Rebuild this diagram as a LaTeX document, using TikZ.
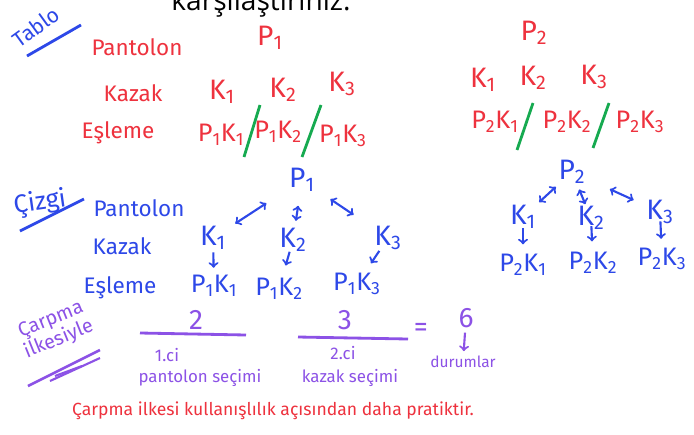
\documentclass[tikz,border=0pt]{standalone}
\usepackage{fontspec}
\setmainfont{Fira Sans}
\newfontfamily\printfont{Open Sans}
\usetikzlibrary{arrows,calc,positioning}
\definecolor{penred}{RGB}{238,50,62}
\definecolor{penblue}{RGB}{45,72,232}
\definecolor{penpurple}{RGB}{140,82,230}
\definecolor{pengreen}{RGB}{22,170,80}
\tikzset{
  row/.style={font=\fontsize{16}{18}\selectfont},
  sym/.style={font=\fontsize{20}{22}\selectfont},
  pair/.style={font=\fontsize{18}{20}\selectfont},
  small/.style={font=\fontsize{12}{13}\selectfont},
  slash/.style={draw=pengreen,line width=2pt},
  link/.style={draw=penblue,line width=1.5pt,<->},
  down/.style={draw=penblue,line width=1.5pt,->}
}
\begin{document}
\begin{tikzpicture}[x=0.025cm,y=-0.025cm]
\clip (0,0) rectangle (694,434);
\fill[white] (0,0) rectangle (694,434);
% question text, cut at the top
\node[anchor=base,font=\printfont\fontsize{20}{22}\selectfont] (soru) at (261,11) {karşılaştırınız.};

% Tablo
\node[text=penblue,font=\fontsize{15}{16}\selectfont,rotate=36,inner sep=0pt] (tablo) at (36,27) {Tablo};
\draw[penblue,line width=2pt] (27,56) -- (81,25);
\begin{scope}[text=penred]
\node[row] (pantR) at (137,47) {Pantolon};
\node[row] (kazakR) at (133,93) {Kazak};
\node[row] (eslR) at (118,133) {Eşleme};
\node[sym] (p1R) at (270,38) {P\textsubscript{1}};
\node[sym] (k1R) at (222,92) {K\textsubscript{1}};
\node[sym] (k2R) at (283,90) {K\textsubscript{2}};
\node[sym] (k3R) at (342,84) {K\textsubscript{3}};
\node[pair] (e11R) at (221,135) {P\textsubscript{1}K\textsubscript{1}};
\node[pair] (e12R) at (278,132) {P\textsubscript{1}K\textsubscript{2}};
\node[pair] (e13R) at (343,136) {P\textsubscript{1}K\textsubscript{3}};
\node[sym] (p2R) at (534,33) {P\textsubscript{2}};
\node[sym] (k4R) at (483,80) {K\textsubscript{1}};
\node[sym] (k5R) at (533,78) {K\textsubscript{2}};
\node[sym] (k6R) at (594,77) {K\textsubscript{3}};
\node[pair] (e21R) at (495,122) {P\textsubscript{2}K\textsubscript{1}};
\node[pair] (e22R) at (567,122) {P\textsubscript{2}K\textsubscript{2}};
\node[pair] (e23R) at (640,122) {P\textsubscript{2}K\textsubscript{3}};
\end{scope}
\draw[slash] (260,105) -- (244,157);
\draw[slash] (321,105) -- (302,157);
\draw[slash] (533,103) -- (517,150);
\draw[slash] (609,103) -- (593,148);

% Cizgi
\node[text=penblue,font=\fontsize{18}{20}\selectfont,rotate=8,inner sep=0pt] (cizgi) at (40,203) {Çizgi};
\draw[penblue,line width=2pt] (20,231) -- (84,199);
\begin{scope}[text=penblue]
\node[row] (pantB) at (139,208) {Pantolon};
\node[row] (kazakB) at (122,246) {Kazak};
\node[row] (eslB) at (120,288) {Eşleme};
\node[sym] (p1B) at (302,180) {P\textsubscript{1}};
\node[sym] (k1B) at (213,238) {K\textsubscript{1}};
\node[sym] (k2B) at (293,240) {K\textsubscript{2}};
\node[sym] (k3B) at (388,238) {K\textsubscript{3}};
\node[pair] (e11B) at (214,286) {P\textsubscript{1}K\textsubscript{1}};
\node[pair] (e12B) at (279,289) {P\textsubscript{1}K\textsubscript{2}};
\node[pair] (e13B) at (357,284) {P\textsubscript{1}K\textsubscript{3}};
\node[sym] (p2B) at (572,172) {P\textsubscript{2}};
\node[sym] (k4B) at (523,217) {K\textsubscript{1}};
\node[sym] (k5B) at (591,218) {K\textsubscript{2}};
\node[sym] (k6B) at (660,212) {K\textsubscript{3}};
\node[pair] (e21B) at (523,265) {P\textsubscript{2}K\textsubscript{1}};
\node[pair] (e22B) at (593,263) {P\textsubscript{2}K\textsubscript{2}};
\node[pair] (e23B) at (662,259) {P\textsubscript{2}K\textsubscript{3}};
\end{scope}
\draw[link] ($(k1B)!0.25!(p1B)$) -- ($(k1B)!0.6!(p1B)$);
\draw[link] ($(p1B)!0.43!(k2B)$) -- ($(p1B)!0.68!(k2B)$);
\draw[link] ($(p1B)!0.33!(k3B)$) -- ($(p1B)!0.6!(k3B)$);
\draw[down] ($(k1B)!0.3!(e11B)$) -- ($(k1B)!0.62!(e11B)$);
\draw[down] ($(k2B)!0.24!(e12B)$) -- ($(k2B)!0.52!(e12B)$);
\draw[down] ($(k3B)!0.28!(e13B)$) -- ($(k3B)!0.55!(e13B)$);
\draw[link] ($(k4B)!0.33!(p2B)$) -- ($(k4B)!0.67!(p2B)$);
\draw[link] ($(p2B)!0.38!(k5B)$) -- ($(p2B)!0.7!(k5B)$);
\draw[link] ($(p2B)!0.43!(k6B)$) -- ($(p2B)!0.7!(k6B)$);
\draw[down] ($(k4B)!0.23!(e21B)$) -- ($(k4B)!0.57!(e21B)$);
\draw[down] ($(k5B)!0.18!(e22B)$) -- ($(k5B)!0.52!(e22B)$);
\draw[down] ($(k6B)!0.2!(e23B)$) -- ($(k6B)!0.57!(e23B)$);

% carpma ilkesi
\begin{scope}[text=penpurple]
\node[font=\fontsize{14}{14}\selectfont,align=center,rotate=22,inner sep=0pt] (ilke) at (55,330) {Çarpma\\ilkesiyle};
\node[sym] (n2) at (196,320) {2};
\node[sym] (n3) at (345,320) {3};
\node[sym] (esit) at (421,330) {=};
\node[sym] (n6) at (466,318) {6};
\node[small] (sira1) at (167,355) {1.ci};
\node[small] (secim1) at (200,378) {pantolon seçimi};
\node[small] (sira2) at (343,353) {2.ci};
\node[small] (secim2) at (350,378) {kazak seçimi};
\node[font=\fontsize{11}{12}\selectfont] (durum) at (463,362) {durumlar};
\end{scope}
\draw[penpurple,line width=1.8pt] (28,386) -- (100,350);
\draw[penpurple,line width=1.5pt] (50,381) -- (100,358);
\draw[penpurple,line width=1.5pt] (55,376) -- (82,366);
\draw[penpurple,line width=2pt] (140,333) -- (246,335);
\draw[penpurple,line width=2pt] (298,337) -- (408,339);
\draw[penpurple,line width=1.5pt,->] (n6) -- (durum);

\node[text=penred,font=\fontsize{12.5}{14}\selectfont] (not) at (273,411) {Çarpma ilkesi kullanışlılık açısından daha pratiktir.};
\end{tikzpicture}
\end{document}
